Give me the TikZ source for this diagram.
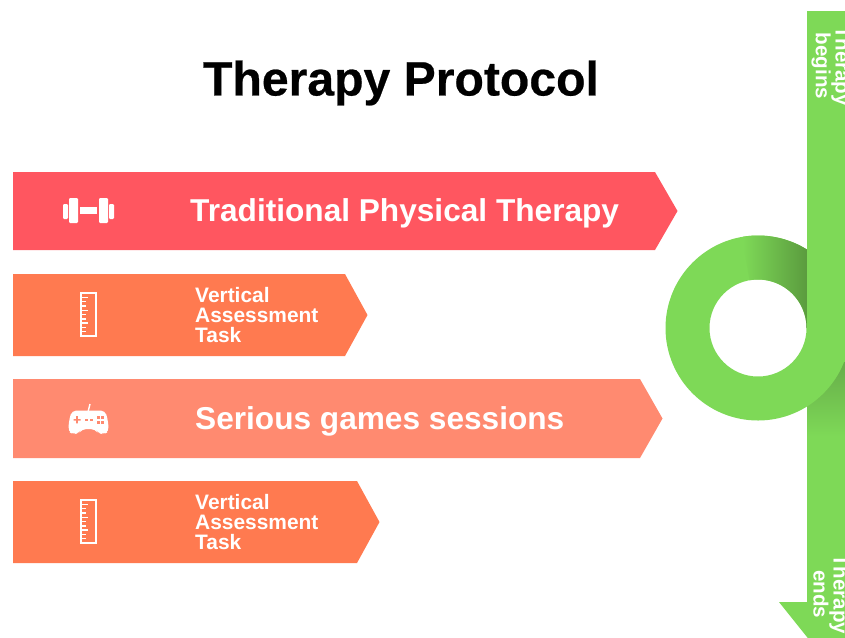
\documentclass[tikz,border=0pt]{standalone}
\usepackage{fontspec}
\setmainfont{Liberation Sans}
\newfontfamily\titlefont[BoldFeatures={FakeBold=0.5}]{Liberation Sans}
\definecolor{bargreen}{HTML}{7ED957}
\definecolor{darkgreen}{HTML}{5A9A3E}
\definecolor{midgreen}{HTML}{66AC49}
\definecolor{barred}{HTML}{FF5660}
\definecolor{barorange}{HTML}{FF7A50}
\definecolor{barsalmon}{HTML}{FF8A70}
\tikzset{
  bigtext/.style={text=white, anchor=west, font=\fontsize{18}{20}\selectfont\bfseries},
  tasktext/.style={text=white, anchor=west, align=left, font=\fontsize{11.9}{11.34}\selectfont\bfseries},
  sidetext/.style={text=white, rotate=-90, align=center, font=\fontsize{11.7}{11.34}\selectfont\bfseries},
}
\newcommand{\therapybar}[4]{\fill[#1] (13,#2) -- (#4,#2) -- (#4+22.5,{(#2+#3)/2}) -- (#4,#3) -- (13,#3) -- cycle;}
\newcommand{\rulericon}[1]{
  \draw[white, line width=0.8pt] (81,#1) rectangle (96,#1+43);
  \foreach \i/\len in {1/7,2/4.5,3/4.5,4/7,5/4.5,6/4.5,7/7,8/4.5,9/4.5}
    \draw[white, line width=0.8pt] (81,#1+4.3*\i) -- ++(\len,0);
}
\begin{document}
\begin{tikzpicture}[x=0.02cm, y=-0.02cm]
  \useasboundingbox (0,0) rectangle (845,637);
  \clip (0,0) rectangle (845,637);

  \node[font=\fontsize{27.4}{30}\selectfont\titlefont\bfseries] (title) at (401,83) {Therapy Protocol};

  % bars
  \therapybar{barred}{172}{250}{655}
  \therapybar{barorange}{274}{356}{345}
  \therapybar{barsalmon}{379}{458}{640}
  \therapybar{barorange}{481}{563}{357}

  \node[bigtext] (trad) at (184,213) {Traditional Physical Therapy};
  \node[tasktext] (task1) at (189,315) {Vertical\\Assessment\\Task};
  \node[bigtext] (games) at (189,421) {Serious games sessions};
  \node[tasktext] (task2) at (189,522) {Vertical\\Assessment\\Task};

  % dumbbell
  \fill[white, rounded corners=0.6pt] (63,204) rectangle (68,219);
  \fill[white, rounded corners=0.6pt] (69,198) rectangle (78,223);
  \fill[white] (80,207) rectangle (97,214);
  \fill[white, rounded corners=0.6pt] (99,198) rectangle (108,223);
  \fill[white, rounded corners=0.6pt] (109,204) rectangle (114,219);

  % rulers
  \rulericon{293}
  \rulericon{500}

  % gamepad
  \draw[white, line width=0.8pt] (88,412) -- (90,404);
  \fill[white, rounded corners=2.5pt] (72,410.5) -- (105,410.5) -- (107.5,418) -- (109,431) -- (104,434.5)
    -- (98,433) -- (95,429) -- (82,429) -- (79,433) -- (73,434.5) -- (68,431) -- (69.5,418) -- cycle;
  \fill[barsalmon] (73.5,419) rectangle (80.5,420.5) (76.2,416.2) rectangle (77.8,423.3);
  \foreach \x in {85,90}
    \fill[barsalmon] (\x,419) rectangle (\x+3,420.5);
  \foreach \x in {96.5,101}
    \foreach \y in {416,421}
      \fill[barsalmon] (\x,\y) rectangle (\x+3,\y+3);

  % band below the ring
  \fill[bargreen] (807,420) -- (807,602) -- (779,602) -- (835,672) -- (891,602) -- (845,602) -- (845,420) -- cycle;
  \shade[top color=midgreen, bottom color=bargreen] (807,360) rectangle (845,436);

  % ring
  \fill[bargreen, even odd rule] (758,328) circle[radius=92.5] (758,328) circle[radius=48.5];
  \begin{scope}
    \clip (758,328) ++(-100:92.5) arc[start angle=-100, end angle=0, radius=92.5]
      -- ++(-44,0) arc[start angle=0, end angle=-100, radius=48.5] -- cycle;
    \shade[left color=bargreen, right color=darkgreen] (743,225) rectangle (808,330);
  \end{scope}

  % band above the ring
  \fill[bargreen] (807,11) rectangle (845,362);

  \node[sidetext] (begins) at (831,66) {Therapy\\begins};
  \node[sidetext] (ends) at (831,594) {Therapy\\ends};
\end{tikzpicture}
\end{document}
